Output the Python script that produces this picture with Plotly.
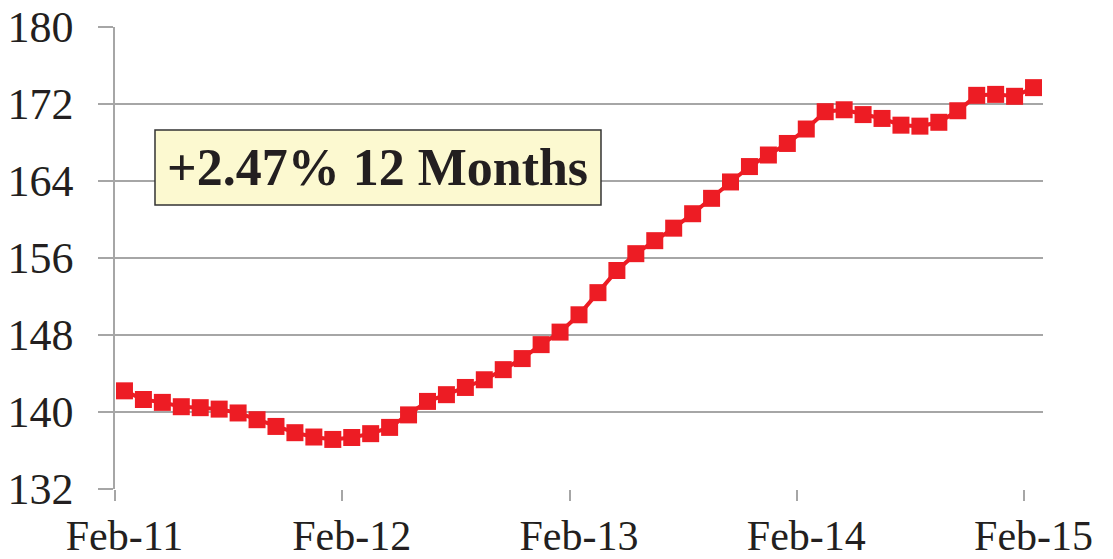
import plotly.graph_objects as go

# monthly index, Feb-2011 .. Feb-2015
months = list(range(49))
values = [
    142.2, 141.3, 141.0, 140.55, 140.45, 140.3, 139.9, 139.2, 138.5, 137.85,
    137.4, 137.15, 137.35, 137.75, 138.4, 139.7, 141.1, 141.8, 142.55, 143.35,
    144.4, 145.55, 147.0, 148.3, 150.1, 152.4, 154.7, 156.45, 157.8, 159.1,
    160.6, 162.2, 163.9, 165.5, 166.7, 167.9, 169.4, 171.2, 171.4, 170.9,
    170.5, 169.8, 169.7, 170.1, 171.3, 172.9, 173.0, 172.8, 173.7,
]
label_pos = [0, 12, 24, 36, 48]
label_text = ["Feb-11", "Feb-12", "Feb-13", "Feb-14", "Feb-15"]
boundary_ticks = [-0.5, 11.5, 23.5, 35.5, 47.5]
y_ticks = [132, 140, 148, 156, 164, 172, 180]

red = "#ED1C24"
grid = "#A6A6A6"
font = "Liberation Serif"

fig = go.Figure()
fig.add_trace(
    go.Scatter(
        x=months,
        y=values,
        mode="lines+markers",
        line=dict(color=red, width=4),
        marker=dict(symbol="square", size=17, color=red),
        showlegend=False,
    )
)

fig.update_xaxes(
    range=[-0.5, 48.5],
    tickvals=label_pos,
    ticktext=label_text,
    ticks="",
    showgrid=False,
    zeroline=False,
    showline=False,
    automargin=False,
    ticklabelstandoff=18,
    tickfont=dict(family=font, size=42, color="#231F20"),
    minor=dict(tickvals=boundary_ticks, ticks="outside", ticklen=11,
               tickcolor=grid, tickwidth=1.5, showgrid=False),
)
fig.update_yaxes(
    range=[132, 180],
    tickvals=y_ticks,
    ticks="outside",
    ticklen=15,
    tickcolor=grid,
    tickwidth=1.5,
    showgrid=True,
    gridcolor=grid,
    gridwidth=1.5,
    zeroline=False,
    showline=True,
    linecolor=grid,
    linewidth=1.5,
    automargin=False,
    ticklabelstandoff=16,
    tickfont=dict(family=font, size=44, color="#231F20"),
)

# callout box
fig.add_shape(
    type="rect", xref="paper", yref="paper",
    x0=0.0431, x1=0.5237, y0=0.6147, y1=0.777,
    fillcolor="#FCF9D0", line=dict(color="#333333", width=1.5),
)
fig.add_annotation(
    xref="paper", yref="paper", x=0.2834, y=0.695,
    xanchor="center", yanchor="middle",
    text="<b>+2.47% 12 Months</b>", showarrow=False,
    font=dict(family=font, size=52, color="#231F20"),
)

fig.update_layout(
    width=1113,
    height=559,
    margin=dict(l=115, r=70, t=27, b=70),
    plot_bgcolor="white",
    paper_bgcolor="white",
)

# drop the default page margin so the figure sits at the window's corner
fig.write_html(
    "out.html",
    config={"displayModeBar": False},
    post_script="document.body.style.margin='0';document.body.style.overflow='hidden';",
)
